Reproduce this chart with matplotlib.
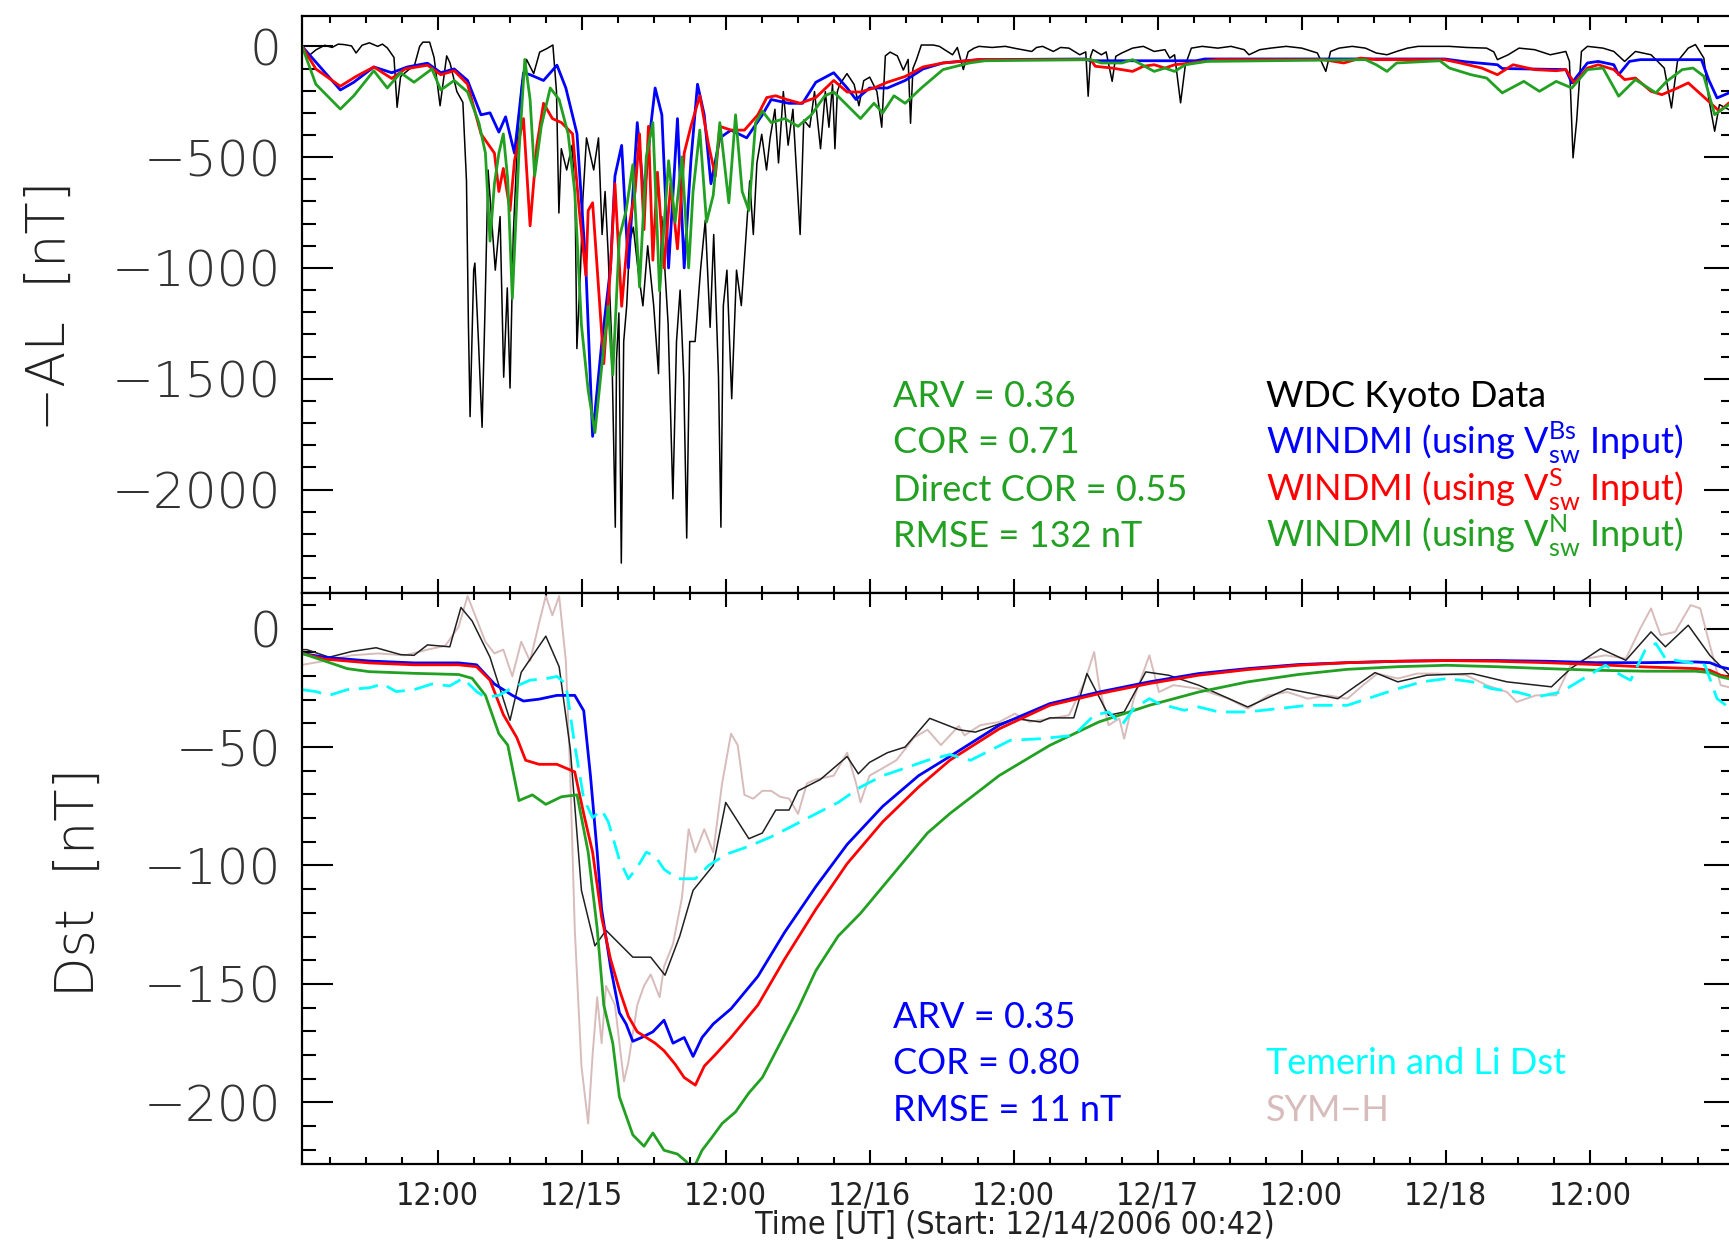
import numpy as np
import matplotlib
matplotlib.use('Agg')
from matplotlib import pyplot as plt
from matplotlib import font_manager as fm
from matplotlib.ticker import FixedLocator

# time in hours since 12/14/2006 00:42 UT, values in nT
al_kyoto = [(0.0, 5), (0.40, -50), (1.15, -16), (1.89, 5), (2.5, -5), (3.01, 10), (3.5, 8), (4.12, 2),
            (4.5, -30), (5.0, 5), (5.61, 16), (6.3, 0), (6.7, 10), (7.10, -7), (7.66, -50), (7.92, -275),
            (8.21, -136), (8.96, -102), (9.33, -93), (9.8, 0), (10.07, 19), (10.63, 19), (11.0, -50),
            (11.5, -268), (12.05, -43), (12.33, -75), (12.9, -204), (13.4, -253), (13.7, -607), (13.86, -1252),
            (14.0, -1671), (14.3, -1010), (14.4, -978), (14.7, -1332), (15.0, -1719), (15.25, -1171),
            (15.5, -558), (15.8, -784), (16.1, -1010), (16.5, -768), (16.8, -1493), (17.1, -1090),
            (17.33, -1542), (17.6, -849), (18.0, -365), (18.3, -172), (18.7, -59), (19.3, -123), (19.8, -26),
            (20.4, -10), (20.9, 6), (21.2, -204), (21.4, -752), (21.6, -462), (22.05, -558), (22.5, -446),
            (22.75, -687), (22.9, -1364), (23.2, -1010), (23.4, -687), (23.7, -413), (24.3, -558),
            (24.7, -413), (25.0, -849), (25.25, -655), (25.5, -929), (25.8, -1332), (26.1, -2170),
            (26.2, -1413), (26.4, -1203), (26.6, -2332), (26.8, -1332), (27.05, -1171), (27.3, -881),
            (27.6, -816), (28.0, -1010), (28.4, -1171), (28.8, -900), (29.3, -1171), (29.7, -1477),
            (29.97, -768), (30.5, -1252), (30.9, -2042), (31.2, -1332), (31.5, -1100), (31.8, -1493),
            (32.05, -2219), (32.3, -1332), (32.75, -1332), (33.2, -1010), (33.6, -784), (34.0, -1268),
            (34.3, -849), (34.7, -1493), (34.9, -2170), (35.1, -1171), (35.4, -1010), (35.8, -1590),
            (36.2, -1010), (36.6, -1170), (37.0, -849), (37.3, -607), (37.6, -849), (37.9, -526), (38.3, -397),
            (38.7, -558), (39.0, -413), (39.4, -284), (39.7, -526), (40.1, -204), (40.5, -446), (40.9, -284),
            (41.5, -849), (41.8, -333), (42.3, -365), (42.7, -204), (43.2, -462), (43.6, -204), (43.9, -365),
            (44.2, -172), (44.4, -462), (44.6, -204), (44.8, -172), (45.4, -123), (46.0, -172), (46.4, -268),
            (46.8, -155), (47.3, -139), (47.9, -204), (48.3, -365), (48.6, -43), (49.0, -26), (49.6, -43),
            (50.1, -107), (50.5, -59), (50.7, -347), (50.9, -100), (51.2, -59), (51.6, 6), (52.6, 6),
            (53.1, 0), (54.2, -38), (54.6, -5), (55.1, -105), (55.5, -25), (56.0, -8), (56.4, 0), (57.5, -5),
            (58.6, 0), (59.5, -10), (60.8, -23), (61.2, -5), (61.7, 0), (62.6, -23), (63.2, -5), (63.9, -8),
            (64.8, -38), (65.3, -25), (65.5, -225), (65.7, -45), (65.9, -15), (66.6, -38), (67.0, -25),
            (67.5, -158), (67.8, -45), (68.3, -30), (69.2, -8), (70.1, 0), (71.0, -23), (71.9, -15),
            (72.3, -53), (72.7, -38), (73.2, -255), (73.6, -83), (74.1, -8), (75.0, 0), (76.3, -8), (77.4, 0),
            (78.5, -15), (78.9, -38), (79.8, -15), (80.7, -8), (82.0, 0), (83.3, -8), (84.6, -30),
            (85.3, -113), (85.7, -23), (86.4, -8), (87.5, 0), (88.6, -8), (89.5, -30), (90.4, -38),
            (91.2, -23), (92.1, -8), (93.0, 0), (95.6, 0), (97.0, -5), (98.7, -8), (99.3, -25), (99.6, -60),
            (100.5, -38), (101.4, -8), (102.7, -15), (104.0, -38), (105.3, -23), (105.6, -68), (105.9, -503),
            (106.2, -338), (106.6, -23), (107.1, 0), (108.4, -8), (109.3, -23), (110.2, -68), (111.1, -23),
            (112.4, -38), (113.5, -98), (114.1, -278), (114.6, -68), (115.5, -8), (116.1, 8), (116.8, -53),
            (117.2, -233), (117.7, -383), (118.1, -263), (119.4, -300)]

al_windmi_bs = [(0, 0), (3.19, -197), (4.31, -162), (5.98, -93), (7.47, -119), (8.77, -93), (10.45, -76),
                (11.56, -119), (12.68, -102), (13.79, -154), (14.91, -309), (15.66, -300), (16.40, -387),
                (16.96, -318), (17.70, -482), (18.45, -119), (19.0, -128), (20.12, -154), (21.24, -85),
                (21.98, -188), (22.91, -395), (23.65, -1000), (24.21, -1760), (24.96, -1345), (25.70, -1000),
                (26.07, -585), (26.63, -447), (27.19, -1000), (27.93, -344), (28.49, -689), (29.05, -361),
                (29.42, -188), (29.98, -309), (30.54, -1000), (31.28, -326), (31.84, -1000), (32.40, -516),
                (32.95, -171), (33.51, -309), (34.07, -620), (34.81, -413), (35.74, -378), (37.05, -413),
                (38.35, -309), (39.09, -240), (40.58, -257), (41.70, -257), (42.81, -162), (44.30, -119),
                (45.42, -188), (46.16, -240), (47.28, -188), (48.77, -188), (50.25, -154), (51.74, -102),
                (53.4, -75), (56.4, -60), (65.2, -57), (65.7, -65), (74.5, -65), (75.2, -57), (95.2, -57),
                (97.0, -70), (99.6, -83), (100.0, -100), (105.3, -105), (105.8, -165), (107.1, -75),
                (108.0, -68), (109.3, -83), (109.7, -128), (110.6, -68), (111.5, -60), (116.6, -60),
                (117.2, -150), (117.9, -233), (118.9, -210), (119.4, -210)]

al_windmi_s = [(0, 0), (1.15, -102), (3.19, -180), (4.49, -136), (5.98, -93), (7.47, -145), (8.59, -102),
               (10.45, -85), (11.56, -128), (12.68, -110), (13.79, -171), (14.91, -395), (16.03, -482),
               (16.40, -655), (16.77, -551), (17.33, -741), (17.70, -516), (18.45, -326), (19.0, -810),
               (19.56, -447), (20.12, -257), (20.86, -326), (21.61, -344), (22.54, -395), (23.10, -741),
               (23.65, -1034), (23.84, -741), (24.21, -706), (24.59, -1000), (25.14, -1432), (25.70, -1000),
               (26.07, -620), (26.63, -1173), (27.19, -827), (27.75, -655), (28.12, -395), (28.49, -827),
               (28.86, -361), (29.23, -965), (29.61, -568), (30.16, -1000), (30.72, -620), (31.28, -914),
               (31.84, -482), (32.40, -361), (33.14, -223), (33.88, -447), (34.44, -585), (34.81, -361),
               (35.74, -378), (36.86, -378), (37.98, -309), (38.72, -231), (39.47, -223), (40.39, -240),
               (41.51, -257), (42.81, -231), (44.30, -154), (45.42, -206), (46.53, -206), (47.65, -188),
               (48.77, -162), (50.25, -136), (51.74, -93), (53.4, -75), (56.4, -60), (65.7, -60), (66.1, -90),
               (67.5, -98), (69.2, -113), (70.1, -90), (71.0, -83), (71.9, -98), (72.7, -83), (74.1, -75),
               (76.3, -60), (85.1, -60), (86.8, -75), (88.2, -53), (89.5, -60), (95.2, -60), (96.5, -75),
               (98.3, -98), (99.6, -128), (100.9, -83), (102.7, -105), (104.5, -110), (105.3, -105),
               (106.0, -165), (107.1, -98), (108.0, -83), (109.3, -105), (110.2, -150), (111.1, -143),
               (112.4, -203), (113.3, -218), (114.6, -188), (115.5, -165), (117.2, -248), (118.1, -293),
               (118.9, -255), (119.4, -255)]

al_windmi_n = [(0, 0), (1.15, -171), (3.19, -283), (4.31, -223), (5.98, -110), (7.10, -188), (8.21, -119),
               (9.33, -162), (10.82, -102), (11.56, -197), (12.68, -154), (13.79, -206), (14.73, -344),
               (15.28, -482), (15.66, -879), (16.03, -620), (16.40, -482), (16.77, -395), (17.14, -603),
               (17.52, -1138), (18.07, -482), (18.56, -59), (19.0, -240), (19.38, -585), (19.93, -361),
               (20.68, -188), (21.42, -240), (22.17, -395), (22.72, -655), (23.28, -1259), (23.84, -1553),
               (24.40, -1743), (24.96, -1449), (25.51, -1173), (25.89, -1483), (26.44, -862), (27.0, -741),
               (27.56, -534), (28.12, -1086), (28.68, -499), (29.23, -344), (29.79, -1104), (30.54, -516),
               (31.09, -793), (31.65, -499), (32.21, -1000), (32.58, -655), (33.14, -378), (33.70, -793),
               (34.26, -672), (34.81, -344), (35.56, -706), (36.12, -309), (36.67, -655), (37.23, -741),
               (37.79, -344), (38.35, -292), (39.09, -344), (40.21, -326), (41.33, -361), (42.44, -309),
               (43.56, -223), (44.30, -206), (45.42, -266), (46.53, -326), (47.65, -257), (48.39, -300),
               (49.32, -223), (50.25, -257), (51.6, -188), (53.4, -105), (55.6, -75), (56.9, -65),
               (65.7, -60), (66.6, -75), (68.3, -75), (69.2, -60), (71.0, -113), (71.9, -98), (72.7, -113),
               (73.6, -83), (75.4, -68), (88.6, -60), (89.5, -83), (90.4, -113), (91.2, -75), (94.8, -65),
               (95.6, -98), (97.4, -128), (98.7, -143), (100.0, -210), (101.8, -158), (103.1, -203),
               (104.5, -158), (105.8, -188), (107.1, -105), (108.4, -98), (109.7, -225), (111.1, -150),
               (112.8, -210), (113.7, -158), (115.0, -105), (115.9, -98), (116.8, -135), (117.7, -308),
               (118.9, -263), (119.4, -263)]

dst_kyoto = [(0, -8.9), (0.40, -8.9), (2.26, -12.1), (4.12, -9.7), (6.17, -8.1), (8.21, -11.0), (9.33, -11.3),
             (10.45, -6.9), (12.31, -7.7), (13.24, 8.9), (14.17, 3.2), (15.66, -12.1), (17.33, -38.7),
             (18.26, -18.5), (20.31, -3.2), (21.42, -16.1), (22.35, -50.8), (23.28, -110.5), (24.40, -133.9),
             (25.33, -127.4), (27.56, -138.7), (29.05, -138.7), (30.24, -146.3), (31.47, -129.8),
             (32.58, -110.5), (34.26, -100.0), (35.30, -73.4), (37.23, -88.7), (38.35, -86.3), (39.47, -76.6),
             (40.58, -76.6), (41.33, -68.5), (43.19, -63.7), (45.42, -54.0), (46.35, -61.3), (47.28, -56.5),
             (48.77, -52.4), (50.25, -50.0), (52.30, -37.9), (54.72, -42.7), (56.1, -43.7), (59.4, -38.0),
             (61.5, -39.4), (62.3, -37.7), (64.3, -37.7), (65.4, -19.0), (67.2, -36.6), (68.5, -35.2),
             (70.3, -18.3), (72.2, -19.7), (74.7, -23.9), (78.8, -33.1), (82.1, -25.4), (86.3, -29.6),
             (87.9, -23.9), (89.4, -18.6), (91.3, -22.5), (93.7, -19.7), (97.5, -19.0), (100.4, -22.5),
             (104.1, -24.6), (105.7, -16.9), (108.2, -8.5), (110.3, -13.4), (112.4, -1.4), (113.6, -7.7),
             (115.5, 1.4), (117.3, -11.3), (119.4, -22.0)]

sym_h = [(0, -15.3), (1.89, -13.7), (4.12, -11.3), (6.35, -10.5), (8.59, -11.3), (10.45, -8.9), (11.93, -7.3),
         (13.05, 0.8), (13.79, 13.7), (14.54, 4.0), (15.28, -5.6), (16.03, -10.5), (16.77, -8.9), (17.52, -20.2),
         (18.26, -5.6), (19.0, -13.7), (19.75, 2.4), (20.31, 13.7), (20.86, 5.6), (21.42, 13.7), (21.98, -13.7),
         (22.35, -62.1), (22.72, -126.6), (23.28, -184.7), (23.84, -208.9), (24.21, -179.8), (24.59, -155.6),
         (24.96, -175.0), (25.33, -150.8), (26.07, -158.9), (26.82, -191.1), (27.19, -183.1), (27.93, -158.9),
         (28.49, -150.8), (29.05, -146.0), (29.79, -155.6), (30.16, -142.7), (30.91, -133.1), (31.65, -113.7),
         (32.21, -84.7), (32.77, -94.4), (33.51, -84.7), (34.26, -94.4), (35.0, -65.3), (35.74, -44.4),
         (36.30, -49.2), (36.86, -70.2), (37.60, -71.8), (38.35, -68.5), (39.09, -68.5), (39.84, -71.0),
         (40.58, -71.8), (41.33, -78.2), (42.07, -65.3), (42.81, -63.7), (44.30, -62.1), (45.42, -52.4),
         (46.16, -65.3), (46.53, -73.4), (47.28, -62.1), (48.39, -58.9), (49.51, -55.6), (51.0, -46.0),
         (52.11, -42.7), (53.23, -49.2), (54.72, -41.1), (55.2, -45.1), (56.5, -40.8), (58.1, -39.4),
         (59.4, -35.9), (60.6, -39.4), (62.3, -38.0), (63.9, -36.6), (65.2, -22.5), (66.0, -9.9), (66.4, -23.9),
         (67.2, -40.8), (68.1, -38.0), (68.5, -46.5), (69.3, -29.6), (70.6, -11.3), (71.4, -26.8), (72.6, -23.9),
         (74.7, -25.4), (77.2, -29.6), (78.8, -33.8), (80.5, -28.2), (82.1, -26.8), (83.8, -29.6), (85.5, -28.2),
         (87.1, -29.6), (88.4, -23.9), (89.6, -19.0), (91.3, -21.1), (92.9, -19.0), (94.6, -19.0), (97.0, -19.7),
         (98.7, -23.9), (100.4, -26.8), (101.2, -31.0), (102.8, -28.2), (104.5, -28.2), (105.7, -15.5),
         (107.0, -12.7), (108.6, -11.3), (110.3, -12.7), (111.5, 0.0), (112.4, 8.5), (113.2, -2.8),
         (114.4, -1.4), (115.7, 9.9), (116.5, 8.5), (117.3, -7.0), (118.2, -23.9), (119.4, -25.4)]

dst_temerin_li = [(0, -25.8), (1.15, -26.6), (2.26, -28.2), (3.75, -25.8), (5.61, -25.0), (6.73, -23.4),
                  (7.84, -26.6), (9.33, -25.8), (10.82, -23.4), (12.31, -24.2), (13.42, -21.0), (14.54, -26.6),
                  (15.28, -29.0), (16.40, -28.2), (17.52, -25.0), (19.0, -21.8), (20.49, -21.0), (21.24, -20.2),
                  (21.98, -23.4), (22.72, -49.2), (23.47, -71.8), (24.21, -79.8), (24.96, -76.6), (25.51, -81.5),
                  (26.44, -97.6), (27.19, -105.6), (27.93, -100.8), (28.68, -94.4), (29.42, -96.0),
                  (30.16, -101.6), (31.28, -105.6), (32.77, -105.6), (33.88, -100.0), (35.37, -95.2),
                  (37.23, -91.9), (39.09, -87.9), (40.95, -83.1), (42.81, -78.2), (44.67, -73.4), (46.53, -66.9),
                  (48.39, -62.1), (50.25, -58.9), (52.11, -55.6), (53.97, -53.2), (55.7, -55.6), (59.0, -47.2),
                  (61.5, -46.5), (64.3, -45.1), (66.0, -36.6), (67.2, -35.2), (68.3, -40.8), (69.3, -33.8),
                  (70.6, -29.6), (71.4, -31.7), (73.5, -34.5), (74.7, -33.1), (76.4, -35.2), (78.8, -35.2),
                  (81.3, -33.8), (83.8, -32.4), (87.1, -32.4), (89.6, -28.2), (91.3, -25.4), (93.3, -22.5),
                  (95.4, -21.1), (97.5, -22.5), (99.1, -25.4), (101.2, -26.8), (102.8, -28.9), (104.9, -26.8),
                  (107.0, -20.4), (108.6, -15.5), (109.9, -19.7), (110.7, -21.8), (111.9, -9.2), (112.8, -6.3),
                  (113.6, -12.7), (115.3, -14.1), (116.9, -15.5), (117.9, -29.6), (119.4, -35.2)]

dst_windmi_bs = [(0, -10.5), (1.89, -12.1), (5.61, -13.7), (9.33, -14.5), (13.05, -14.5), (14.54, -15.3),
                 (16.03, -23.4), (17.52, -28.2), (18.45, -30.6), (19.75, -29.8), (21.24, -28.2), (22.72, -28.2),
                 (23.47, -34.7), (24.03, -62.1), (24.59, -94.4), (24.96, -118.5), (25.70, -142.7),
                 (26.44, -162.1), (27.0, -166.9), (27.56, -174.2), (28.30, -172.6), (29.23, -170.2),
                 (30.16, -165.3), (30.91, -175.0), (31.84, -172.6), (32.58, -180.6), (33.33, -172.6),
                 (34.26, -166.9), (35.74, -160.5), (37.98, -146.8), (40.21, -128.2), (42.81, -108.9),
                 (45.42, -91.1), (48.39, -75.0), (51.37, -62.1), (53.97, -54.0), (58.1, -40.8), (62.3, -31.7),
                 (66.4, -26.8), (70.6, -22.5), (74.7, -19.0), (78.8, -16.9), (83.0, -15.2), (87.1, -14.4),
                 (91.3, -13.8), (95.4, -13.5), (99.5, -13.5), (103.7, -13.8), (107.8, -14.4), (111.9, -14.4),
                 (116.1, -14.1), (117.3, -14.4), (118.2, -16.2), (119.4, -17.6)]

dst_windmi_s = [(0, -10.5), (1.89, -12.9), (5.61, -14.5), (9.33, -15.3), (13.05, -15.3), (14.54, -16.1),
                (15.66, -21.8), (16.77, -36.3), (17.89, -46.0), (18.63, -55.6), (19.75, -57.3), (21.24, -57.3),
                (22.72, -60.5), (23.47, -78.2), (24.21, -94.4), (24.96, -121.8), (25.70, -139.5),
                (26.44, -152.4), (27.19, -163.7), (27.93, -170.2), (28.68, -172.6), (29.42, -175.0),
                (30.16, -178.2), (31.09, -183.9), (31.84, -189.5), (32.77, -192.7), (33.51, -184.7),
                (34.44, -179.8), (35.74, -172.6), (37.98, -158.9), (40.21, -139.5), (42.81, -118.5),
                (45.42, -99.2), (48.39, -81.5), (51.37, -66.9), (53.97, -55.6), (58.1, -42.3), (62.3, -32.4),
                (66.4, -27.5), (70.6, -23.2), (74.7, -19.7), (78.8, -17.3), (83.0, -15.5), (87.1, -14.4),
                (91.3, -13.8), (95.4, -13.5), (99.5, -13.8), (103.7, -14.4), (107.8, -15.2), (111.9, -16.2),
                (116.1, -16.9), (117.3, -17.6), (118.2, -19.7), (119.4, -21.1)]

dst_windmi_n = [(0, -10.5), (1.89, -13.7), (3.75, -16.9), (5.61, -18.2), (9.33, -18.9), (13.05, -19.4),
                (14.17, -21.0), (15.28, -28.2), (16.40, -44.4), (17.14, -49.2), (18.07, -72.6), (19.19, -70.2),
                (20.31, -74.2), (21.61, -71.0), (22.91, -70.2), (23.84, -94.4), (24.59, -126.6),
                (25.14, -158.9), (25.89, -175.0), (26.44, -197.6), (27.56, -213.7), (28.49, -218.5),
                (29.23, -212.9), (30.16, -220.2), (31.28, -221.8), (32.02, -225.0), (32.58, -228.2),
                (33.33, -220.2), (34.07, -215.3), (35.0, -208.9), (36.12, -204.0), (37.23, -196.0),
                (38.35, -189.5), (39.84, -175.0), (41.33, -160.5), (42.81, -144.4), (44.67, -129.8),
                (46.53, -120.2), (48.39, -108.9), (50.25, -97.6), (52.11, -86.3), (54.0, -78.0), (58.1, -62.0),
                (62.3, -49.3), (66.4, -39.4), (70.6, -32.4), (74.7, -26.8), (78.8, -22.5), (83.0, -19.4),
                (87.1, -17.2), (91.3, -16.1), (95.4, -15.5), (99.5, -16.1), (103.7, -16.9), (107.8, -17.6),
                (111.9, -18.0), (116.1, -18.0), (117.3, -18.6), (118.2, -20.4), (119.4, -21.8)]

xtick_labels = ['12:00', '12/15', '12:00', '12/16', '12:00', '12/17', '12:00', '12/18', '12:00']
al_ticks = [0, -500, -1000, -1500, -2000]
dst_ticks = [0, -50, -100, -150, -200]

GREEN = '#22a022'
SYMH = '#d8bcbc'

# narrow face for the time axis if a condensed one is installed
condensed = any(f.name == 'DejaVu Sans' and f.stretch == 'condensed' for f in fm.fontManager.ttflist)
if condensed:
    NARROW = dict(family='DejaVu Sans', stretch='condensed', fontsize=23)
else:
    NARROW = dict(family='Liberation Sans', fontsize=20)

plt.rcParams['mathtext.fontset'] = 'custom'
plt.rcParams['mathtext.rm'] = 'Lato'


def xy(series):
    arr = np.array(series, dtype=float)
    return arr[:, 0], arr[:, 1]


def style(ax, yticks, yminor):
    ax.set_xlim(0, 119.4)
    ax.xaxis.set_major_locator(FixedLocator(np.arange(11.3, 110, 12)))
    ax.xaxis.set_minor_locator(FixedLocator(np.arange(2.3, 120, 3)))
    ax.yaxis.set_major_locator(FixedLocator(yticks))
    ax.yaxis.set_minor_locator(FixedLocator(yminor))
    ax.tick_params(which='both', direction='in', top=True, right=True, width=1.5, color='black')
    ax.tick_params(axis='y', which='major', length=22, pad=15, labelsize=36, labelcolor='#333333')
    ax.tick_params(axis='y', which='minor', length=10)
    ax.tick_params(axis='x', which='major', length=10)
    ax.tick_params(axis='x', which='minor', length=5)
    for lab in ax.get_yticklabels():
        lab.set_fontweight('light')
    for s in ax.spines.values():
        s.set_linewidth(1.6)


fig = plt.figure(figsize=(17.29, 12.44), dpi=100)
ax1 = fig.add_axes([0.1747, 0.5233, 0.8288, 0.4642])
ax2 = fig.add_axes([0.1747, 0.0643, 0.8288, 0.4590])

# -AL panel
t, v = xy(al_kyoto)
ax1.plot(t, v, color='black', lw=1.1)
t, v = xy(al_windmi_bs)
ax1.plot(t, v, color='blue', lw=2.0)
t, v = xy(al_windmi_s)
ax1.plot(t, v, color='red', lw=2.0)
t, v = xy(al_windmi_n)
ax1.plot(t, v, color=GREEN, lw=2.0)
ax1.set_ylim(-2467, 139)
style(ax1, al_ticks, np.arange(0, -2500, -100))
ax1.tick_params(labelbottom=False)

# Dst panel
t, v = xy(sym_h)
ax2.plot(t, v, color=SYMH, lw=1.4)
t, v = xy(dst_kyoto)
ax2.plot(t, v, color='#202020', lw=1.1)
t, v = xy(dst_windmi_bs)
ax2.plot(t, v, color='blue', lw=2.0)
t, v = xy(dst_windmi_s)
ax2.plot(t, v, color='red', lw=2.0)
t, v = xy(dst_windmi_n)
ax2.plot(t, v, color=GREEN, lw=2.0)
t, v = xy(dst_temerin_li)
ax2.plot(t, v, color='cyan', lw=2.0, linestyle=(0, (7, 3.5)))
ax2.set_ylim(-226, 15)
style(ax2, dst_ticks, np.arange(10, -230, -10))
ax2.set_xticklabels(xtick_labels, color='#222222', **NARROW)
ax2.tick_params(axis='x', which='major', pad=12)

# axis titles
fig.text(0.0289, 0.754, '\u2212AL  [nT]', rotation=90, ha='center', va='center',
         fontsize=38, fontweight='light', color='#222222')
fig.text(0.0457, 0.291, 'Dst  [nT]', rotation=90, ha='center', va='center',
         fontsize=38, fontweight='light', color='#222222')
fig.text(0.587, 0.0145, 'Time [UT] (Start: 12/14/2006 00:42)', ha='center', va='center',
         color='#222222', **NARROW)

# statistics and legend text
ann = dict(fontsize=26, va='center', ha='left', family='Lato')
ys = [0.6809, 0.6439, 0.6061, 0.5691]
for y, s in zip(ys, ['ARV = 0.36', 'COR = 0.71', 'Direct COR = 0.55', 'RMSE = 132 nT']):
    fig.text(0.5165, y, s, color=GREEN, **ann)
legend_top = [('WDC Kyoto Data', 'black'),
              (r'WINDMI (using $\mathrm{V}_{\mathrm{sw}}^{\mathrm{Bs}}$ Input)', 'blue'),
              (r'WINDMI (using $\mathrm{V}_{\mathrm{sw}}^{\mathrm{S}}$ Input)', 'red'),
              (r'WINDMI (using $\mathrm{V}_{\mathrm{sw}}^{\mathrm{N}}$ Input)', GREEN)]
for y, (s, c) in zip(ys, legend_top):
    fig.text(0.7322, y, s, color=c, **ann)

ys2 = [0.1817, 0.1447, 0.1077]
for y, s in zip(ys2, ['ARV = 0.35', 'COR = 0.80', 'RMSE = 11 nT']):
    fig.text(0.5165, y, s, color='blue', **ann)
fig.text(0.7322, ys2[1], 'Temerin and Li Dst', color='cyan', **ann)
fig.text(0.7322, ys2[2], 'SYM\u2212H', color=SYMH, **ann)

fig.savefig('out.png', dpi=100)
